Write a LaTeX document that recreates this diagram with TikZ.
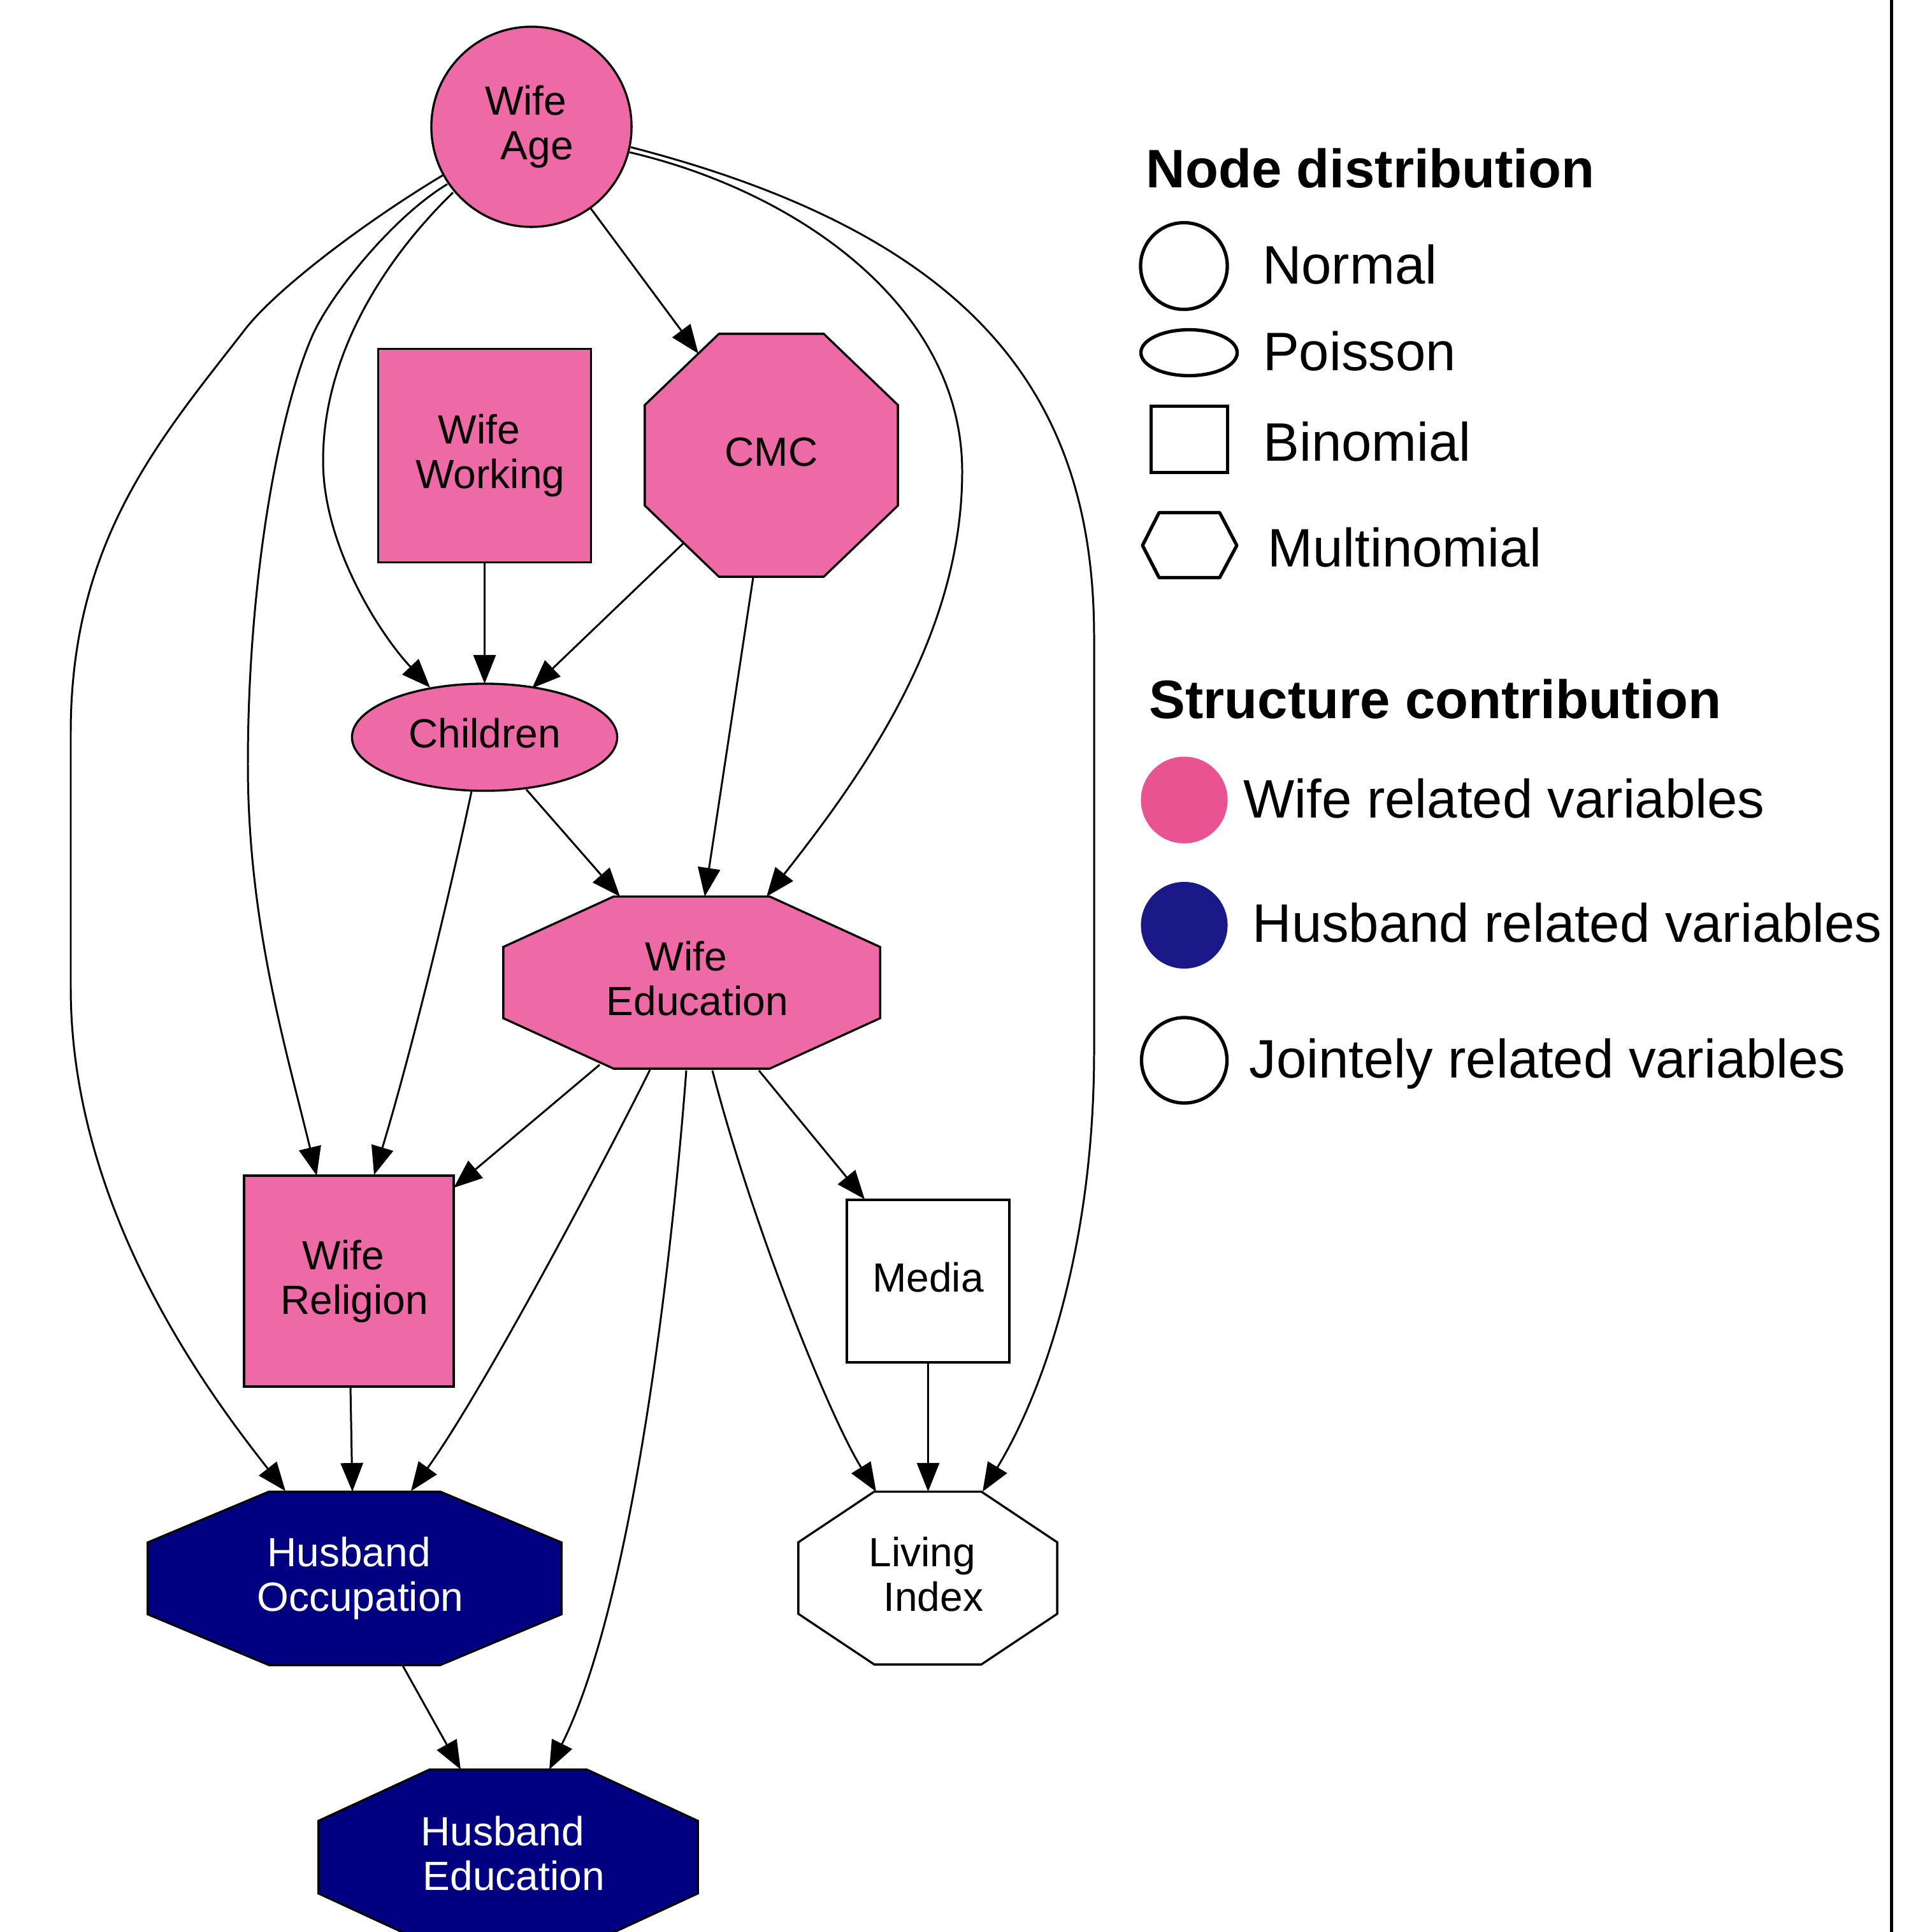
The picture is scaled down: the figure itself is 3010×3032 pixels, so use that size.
\documentclass[tikz,border=0pt]{standalone}
\usepackage{fontspec}
\setmainfont{Liberation Sans}
\usetikzlibrary{arrows.meta,shapes.geometric,backgrounds,calc}
\definecolor{wpink}{HTML}{EE6AA7}
\definecolor{hnavy}{HTML}{000080}
\definecolor{lpink}{HTML}{E95392}
\definecolor{lblue}{HTML}{1B1887}
\newcommand{\lnstrut}{\rule[-0.212em]{0pt}{0.94em}}
\newcommand{\twol}[2]{\lnstrut#1\kern0.278em\\\lnstrut\kern0.278em#2}
\newcommand{\onel}[1]{\lnstrut#1}
\newcommand{\octo}[2]{%
\draw[nbord, fill=#2] ($(#1.north west)!0.293!(#1.north east)$) -- ($(#1.north west)!0.707!(#1.north east)$) -- ($(#1.north east)!0.293!(#1.south east)$) -- ($(#1.north east)!0.707!(#1.south east)$) -- ($(#1.south west)!0.707!(#1.south east)$) -- ($(#1.south west)!0.293!(#1.south east)$) -- ($(#1.north west)!0.707!(#1.south west)$) -- ($(#1.north west)!0.293!(#1.south west)$) -- cycle;}
\tikzset{
  nfont/.style={font=\fontsize{18.21pt}{19.92pt}\selectfont, align=center},
  nbord/.style={draw=black, line width=0.95pt},
  wcirc/.style={circle, nbord, fill=wpink, inner sep=0pt, outer sep=0pt, minimum size=3.14cm, nfont},
  wrect/.style={rectangle, nbord, fill=wpink, inner sep=0pt, outer sep=0pt, nfont},
  wellip/.style={ellipse, nbord, fill=wpink, inner sep=0pt, outer sep=0pt, nfont},
  octbox/.style={rectangle, draw=none, inner sep=0pt, outer sep=0pt, nfont},
  edge/.style={line width=0.85pt, -{Triangle[length=0.45cm,width=0.35cm]}},
  lgline/.style={draw=black, line width=1.5pt},
  lgtext/.style={font=\fontsize{24.18pt}{28pt}\selectfont, inner sep=0pt, anchor=base west},
}
\begin{document}
\begin{tikzpicture}[x=0.01cm, y=-0.01cm]
\useasboundingbox (0,0) rectangle (3010,3032);

% ---------- graph nodes ----------
\node[wcirc] (wa) at (834,199) {\twol{Wife}{Age}};
\node[wrect, minimum width=3.34cm, minimum height=3.35cm] (ww) at (760.5,715) {\twol{Wife}{Working}};
\node[octbox, minimum width=3.97cm, minimum height=3.81cm] (cmc) at (1210.5,714.5) {\onel{CMC}};
\node[wellip, minimum width=4.16cm, minimum height=1.68cm] (ch) at (760.5,1157) {\onel{Children}};
\node[octbox, minimum width=5.91cm, minimum height=2.70cm] (we) at (1085.5,1542) {\twol{Wife}{Education}};
\node[wrect, minimum width=3.29cm, minimum height=3.31cm] (wr) at (547.5,2010.5) {\twol{Wife}{Religion}};
\node[wrect, fill=white, minimum size=2.55cm] (me) at (1456.5,2010.5) {\onel{Media}};
\node[octbox, text=white, minimum width=6.49cm, minimum height=2.72cm] (ho) at (556.5,2477) {\twol{Husband}{Occupation}};
\node[octbox, minimum width=4.06cm, minimum height=2.71cm] (li) at (1456,2476.5) {\twol{Living}{Index}};
\node[octbox, text=white, minimum width=5.95cm, minimum height=2.75cm] (he) at (797.5,2914.5) {\twol{Husband}{Education}};

\begin{scope}[on background layer]
\fill[white] (0,0) rectangle (3010,3032);
\octo{cmc}{wpink}
\octo{we}{wpink}
\octo{ho}{hnavy}
\octo{li}{white}
\octo{he}{hnavy}
\end{scope}

% ---------- edges ----------
\draw[edge] ([shift={(93,128)}]wa.center) -- ([shift={(-114.5,-159.5)}]cmc.center);
\draw[edge] ([shift={(-123,103)}]wa.center) .. controls (600,410) and (507,560) .. (507,723)
  .. controls (507,860) and (600,1000) .. ([shift={(-85.5,-78)}]ch.center);
\draw[edge] ([shift={(-132,90)}]wa.center) .. controls (616,341) and (520,461) .. (491,525)
  .. controls (440,640) and (389,900) .. (389,1200)
  .. controls (389,1450) and (450,1650) .. ([shift={(-50.5,-165.5)}]wr.center);
\draw[edge] ([shift={(-139,76)}]wa.center) .. controls (565,353) and (428,459) .. (383,519)
  .. controls (250,690) and (111,850) .. (111,1150) -- (111,1550)
  .. controls (111,1900) and (330,2190) .. ([shift={(-108.5,-137)}]ho.center);
\draw[edge] ([shift={(154,40)}]wa.center) .. controls (1250,300) and (1510,480) .. (1510,740)
  .. controls (1510,1000) and (1350,1220) .. ([shift={(117.5,-135)}]we.center);
\draw[edge] ([shift={(156,32)}]wa.center) .. controls (1540,373) and (1717,630) .. (1717,1000)
  -- (1717,1650) .. controls (1717,1950) and (1640,2180) .. ([shift={(86,-135.5)}]li.center);
\draw[edge] (ww.south) -- (ch.north);
\draw[edge] ([shift={(-138.5,138.5)}]cmc.center) -- ([shift={(74.5,-77)}]ch.center);
\draw[edge] ([shift={(-28.5,191.5)}]cmc.center) -- ([shift={(20.5,-135)}]we.center);
\draw[edge] ([shift={(65.5,82)}]ch.center) -- ([shift={(-112.5,-135)}]we.center);
\draw[edge] ([shift={(-20.5,85)}]ch.center) .. controls (700,1430) and (640,1670) .. ([shift={(39.5,-166.5)}]wr.center);
\draw[edge] ([shift={(-144.5,129)}]we.center) -- ([shift={(164.5,-146.5)}]wr.center);
\draw[edge] ([shift={(-65.5,137)}]we.center) .. controls (950,1820) and (760,2180) .. ([shift={(88.5,-137)}]ho.center);
\draw[edge] ([shift={(-8.5,138)}]we.center) .. controls (1059,1920) and (1000,2500) .. ([shift={(64.5,-137.5)}]he.center);
\draw[edge] ([shift={(32.5,138)}]we.center) .. controls (1180,1920) and (1300,2220) .. ([shift={(-81,-135.5)}]li.center);
\draw[edge] ([shift={(105.5,138)}]we.center) -- ([shift={(-99.5,-128.5)}]me.center);
\draw[edge] (me.south) -- (me.south |- li.north);
\draw[edge] ([shift={(2.5,165.5)}]wr.center) -- ([shift={(-3.5,-136)}]ho.center);
\draw[edge] ([shift={(75.5,137)}]ho.center) -- ([shift={(-74.5,-137.5)}]he.center);

% ---------- legend ----------
\node[lgtext] (lgh1) at (1798,294) {\bfseries Node distribution};
\node[circle, lgline, minimum size=1.36cm, inner sep=0pt] (lgnorm) at (1858,417.5) {};
\node[lgtext] (lgt1) at (1980.5,445) {Normal};
\node[ellipse, lgline, minimum width=1.51cm, minimum height=0.72cm, inner sep=0pt] (lgpois) at (1866,553.5) {};
\node[lgtext] (lgt2) at (1981.5,581) {Poisson};
\node[rectangle, lgline, minimum width=1.20cm, minimum height=1.04cm, inner sep=0pt] (lgbin) at (1866.5,689.5) {};
\node[lgtext] (lgt3) at (1982,723) {Binomial};
\draw[lgline, line join=round] (1793,856) -- (1819,804.5) -- (1914,804.5) -- (1941,856) -- (1914,906.5) -- (1819,906.5) -- cycle;
\node[lgtext] (lgt4) at (1989,889) {Multinomial};

\node[lgtext] (lgh2) at (1803,1127) {\bfseries Structure contribution};
\node[circle, fill=lpink, minimum size=1.36cm, inner sep=0pt] (lgwife) at (1858.5,1255.5) {};
\node[lgtext] (lgt5) at (1951,1283) {Wife related variables};
\node[circle, fill=lblue, minimum size=1.36cm, inner sep=0pt] (lghusb) at (1858.5,1452) {};
\node[lgtext] (lgt6) at (1965,1478) {Husband related variables};
\node[circle, lgline, minimum size=1.34cm, inner sep=0pt] (lgjoint) at (1858.5,1664) {};
\node[lgtext] (lgt7) at (1960,1691) {Jointely related variables};

\draw[line width=0.05cm] (2968.5,0) -- (2968.5,3032);
\end{tikzpicture}
\end{document}
